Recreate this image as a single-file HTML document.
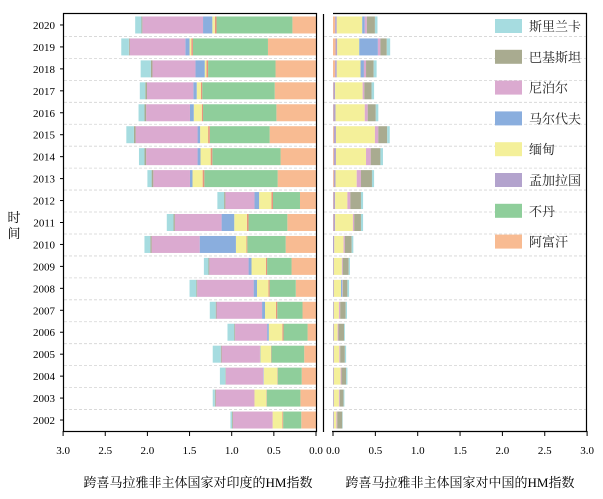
<!DOCTYPE html>
<html><head><meta charset="utf-8">
<style>
body{margin:0;background:#fff;}
svg{display:block;font-family:"Liberation Serif","Noto Serif CJK SC",serif;}
</style></head>
<body>
<svg id="chart" width="603" height="499" viewBox="0 0 603 499" xmlns="http://www.w3.org/2000/svg">
<g id="grid"></g>
<g id="bars"></g>
<g id="axes"></g>
<g id="legend"></g>
<text x="198" y="487" font-size="13" text-anchor="middle">跨喜马拉雅非主体国家对印度的HM指数</text>
<text x="460" y="487" font-size="13" text-anchor="middle">跨喜马拉雅非主体国家对中国的HM指数</text>
<text x="14" y="222" font-size="13" text-anchor="middle">时</text>
<text x="14" y="238" font-size="13" text-anchor="middle">间</text>
</svg>
<script>
const years = [2020,2019,2018,2017,2016,2015,2014,2013,2012,2011,2010,2009,2008,2007,2006,2005,2004,2003,2002];
const countries = ["阿富汗","不丹","孟加拉国","缅甸","马尔代夫","尼泊尔","巴基斯坦","斯里兰卡"];
const colors = ["#f8bb92","#8fce9b","#b3a3cd","#f4f09a","#8aaede","#dbaad0","#a9ab90","#a6dce0"];
const indiaColors = ["#f8bb92","#8fce9b","#e8957c","#f4f09a","#8aaede","#dbaad0","#a9ab90","#a6dce0"];
const indAfghanistan = [0.28,0.57,0.48,0.49,0.47,0.55,0.42,0.455,0.19,0.34,0.36,0.29,0.24,0.16,0.10,0.14,0.17,0.185,0.175];
const indBhutan = [0.90,0.89,0.80,0.86,0.87,0.71,0.81,0.87,0.32,0.46,0.455,0.29,0.31,0.30,0.285,0.39,0.285,0.40,0.215];
const indBangladesh = [0.02,0.02,0.02,0.015,0.015,0.02,0.02,0.02,0.02,0.02,0.01,0.015,0.015,0.015,0.015,0.005,0.005,0.005,0.01];
const indMyanmar = [0.03,0.02,0.02,0.05,0.095,0.095,0.12,0.12,0.145,0.15,0.125,0.17,0.135,0.13,0.16,0.125,0.16,0.14,0.115];
const indMaldives = [0.11,0.05,0.11,0.04,0.045,0.03,0.035,0.03,0.055,0.15,0.43,0.035,0.04,0.035,0.02,0.005,0.005,0,0];
const indNepal = [0.72,0.66,0.51,0.55,0.52,0.735,0.61,0.435,0.345,0.555,0.57,0.465,0.67,0.54,0.38,0.455,0.445,0.46,0.47];
const indPakistan = [0.01,0.01,0.02,0.02,0.02,0.02,0.02,0.02,0.015,0.015,0.015,0.01,0.01,0.01,0.01,0.01,0.005,0.01,0.01];
const indSriLanka = [0.075,0.09,0.12,0.065,0.07,0.09,0.065,0.05,0.08,0.08,0.07,0.055,0.08,0.07,0.08,0.095,0.065,0.025,0.02];
const chnAfghanistan = [0.025,0.03,0.025,0.005,0.005,0.01,0.01,0.01,0.005,0.005,0,0,0,0,0,0,0,0,0];
const chnBhutan = [0,0,0,0,0,0,0,0,0,0,0,0,0,0,0,0,0,0,0];
const chnBangladesh = [0.02,0.02,0.02,0.02,0.025,0.025,0.025,0.02,0.02,0.02,0.015,0.01,0.01,0.01,0.01,0.01,0.01,0.01,0.01];
const chnMyanmar = [0.30,0.26,0.28,0.325,0.345,0.46,0.355,0.25,0.145,0.21,0.11,0.095,0.085,0.06,0.045,0.065,0.08,0.06,0.03];
const chnMaldives = [0.03,0.22,0.04,0,0,0,0,0,0,0,0,0,0.015,0,0,0,0,0,0];
const chnNepal = [0.025,0.03,0.025,0.02,0.035,0.04,0.055,0.05,0.035,0.015,0.015,0.01,0.005,0.015,0.01,0.01,0.01,0.01,0.01];
const chnPakistan = [0.095,0.075,0.09,0.085,0.095,0.105,0.115,0.13,0.125,0.08,0.08,0.07,0.055,0.065,0.065,0.055,0.055,0.045,0.06];
const chnSriLanka = [0.03,0.04,0.035,0.03,0.03,0.03,0.03,0.025,0.025,0.025,0.02,0.015,0.02,0.015,0.01,0.015,0.015,0.01,0.005];
const xTicks = [0,0.5,1.0,1.5,2.0,2.5,3.0];

const india = [indAfghanistan,indBhutan,indBangladesh,indMyanmar,indMaldives,indNepal,indPakistan,indSriLanka];
const china = [chnAfghanistan,chnBhutan,chnBangladesh,chnMyanmar,chnMaldives,chnNepal,chnPakistan,chnSriLanka];

const NS="http://www.w3.org/2000/svg";
const topY=14,bottomY=431,rowH=(bottomY-topY)/years.length,barH=17;
const xL = v => 316 - v*84.3;
const xR = v => 333 + v*84.7;
const yRow = i => topY + i*rowH;
function mk(tag,attrs,parent){const e=document.createElementNS(NS,tag);for(const k in attrs)e.setAttribute(k,attrs[k]);parent.appendChild(e);return e;}
const G=document.getElementById('grid'),B=document.getElementById('bars'),A=document.getElementById('axes'),L=document.getElementById('legend');

for(let i=1;i<years.length;i++){
  const y=yRow(i)+0.5;
  const g1=mk('line',{x1:64,x2:316,y1:y,y2:y,stroke:'#d4d4d4','stroke-dasharray':'3,2','stroke-width':0.8},G);
  
  
  const g2=mk('line',{x1:324,x2:586,y1:y,y2:y,stroke:'#d4d4d4','stroke-dasharray':'3,2','stroke-width':0.8},G);
  
  
}
years.forEach((yr,i)=>{
  const y=yRow(i)+(rowH-barH)/2;
  let cumL=0,cumR=0;
  for(let c=0;c<countries.length;c++){
    const v=india[c][i];
    if(v>0){
      const r=mk('rect',{x:xL(cumL+v),y:y,width:xL(cumL)-xL(cumL+v),height:barH,fill:indiaColors[c]},B);
      
      
    }
    cumL+=v;
    const w=china[c][i];
    if(w>0){
      const r=mk('rect',{x:xR(cumR),y:y,width:xR(cumR+w)-xR(cumR),height:barH,fill:colors[c]},B);
      
      
    }
    cumR+=w;
  }
  const t=mk('text',{x:55,y:yRow(i)+rowH/2+4,'font-size':11,'text-anchor':'end'},A);
  t.textContent=yr;
  
  
  const tk=mk('line',{x1:60,x2:64,y1:yRow(i)+rowH/2,y2:yRow(i)+rowH/2,stroke:'#000'},A);
  
  
});
const f1=mk('rect',{x:63.5,y:13.5,width:253,height:418,fill:'none',stroke:'#000','stroke-width':1.2},A);


const f2=mk('path',{d:'M323.5,14 V432 M333,13.5 H586.5 V432 M332,431.5 H587',fill:'none',stroke:'#000','stroke-width':1.2},A);


xTicks.forEach(v=>{
  const a=mk('line',{x1:xL(v),x2:xL(v),y1:431,y2:436,stroke:'#000'},A);
  
  
  const ta=mk('text',{x:xL(v),y:454,'font-size':11,'text-anchor':'middle'},A);
  ta.textContent=v.toFixed(1);
  
  
  const b=mk('line',{x1:xR(v),x2:xR(v),y1:431,y2:436,stroke:'#000'},A);
  
  
  const tb=mk('text',{x:xR(v),y:454,'font-size':11,'text-anchor':'middle'},A);
  tb.textContent=v.toFixed(1);
  
  
});
for(let k=0;k<countries.length;k++){
  const c=countries.length-1-k;
  const cy=26+k*30.8;
  const s=mk('rect',{x:495,y:cy-7,width:27,height:14,fill:colors[c]},L);
  
  
  const t=mk('text',{x:529,y:cy+5,'font-size':13,fill:'#222'},L);
  t.textContent=countries[c];
  
  
}
</script>
</body></html>
